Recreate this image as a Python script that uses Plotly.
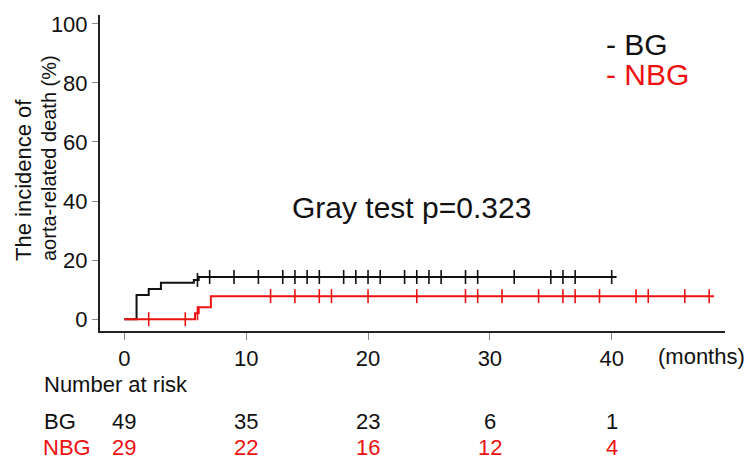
import plotly.graph_objects as go
import numpy as np

# ---- data ----
bg_times = [0, 1, 2, 3, 5.7, 6.1, 40.4]
bg_vals = [0, 8.2, 10.2, 12.3, 13.3, 14.3, 14.3]
bg_censor = [6.0, 7, 9, 11, 13, 14, 15, 16, 18, 19, 20, 21, 23, 24, 25, 26, 28, 29, 32, 35, 36, 37, 40]

nbg_times = [0, 5.8, 6.1, 7.1, 48.4]
nbg_vals = [0, 2.0, 4.0, 7.8, 7.8]
nbg_censor = [2, 5, 6.0, 12, 14, 16, 17, 20, 24, 28, 29, 31, 34, 36, 37, 39, 42, 43, 46, 48]

risk_times = [0, 10, 20, 30, 40]
risk_bg = [49, 35, 23, 6, 1]
risk_nbg = [29, 22, 16, 12, 4]

x_ticks = [0, 10, 20, 30, 40]
y_ticks = [0, 20, 40, 60, 80, 100]

BLACK = "#111111"
RED = "#ee1111"
FONT = "Liberation Sans, Arial, sans-serif"

W, H = 750.0, 461.0
ML, MR, MT, MB = 100, 25, 15, 130


def px(pix):
    return (pix - ML) / (W - ML - MR)


def py(pix):
    return (H - MB - pix) / (H - MT - MB)


def step_at(times, vals, t):
    idx = np.searchsorted(np.array(times), t, side="right") - 1
    return vals[max(idx, 0)]


fig = go.Figure()

for times, vals, cens, col in [
    (bg_times, bg_vals, bg_censor, BLACK),
    (nbg_times, nbg_vals, nbg_censor, RED),
]:
    fig.add_trace(go.Scatter(x=times, y=vals, mode="lines", line=dict(color=col, width=2, shape="hv"),
                             showlegend=False, hoverinfo="skip"))
    fig.add_trace(go.Scatter(x=cens, y=[step_at(times, vals, c) for c in cens], mode="markers",
                             marker=dict(symbol="line-ns", size=10, line=dict(color=col, width=1.6)),
                             showlegend=False, hoverinfo="skip"))

annotations = []
# legend text
annotations.append(dict(x=px(604), y=py(44), xref="paper", yref="paper", xanchor="left", yanchor="middle",
                        text="- BG", showarrow=False, font=dict(family=FONT, size=30, color=BLACK)))
annotations.append(dict(x=px(604), y=py(74), xref="paper", yref="paper", xanchor="left", yanchor="middle",
                        text="- NBG", showarrow=False, font=dict(family=FONT, size=30, color=RED)))
# gray test
annotations.append(dict(x=px(290), y=py(208), xref="paper", yref="paper", xanchor="left", yanchor="middle",
                        text="Gray test p=0.323", showarrow=False, font=dict(family=FONT, size=30, color=BLACK)))
# months
annotations.append(dict(x=px(747), y=py(356), xref="paper", yref="paper", text="(months)", showarrow=False,
                        xanchor="right", yanchor="middle", font=dict(family=FONT, size=22, color=BLACK)))
# risk table
annotations.append(dict(x=px(42), y=py(384), xref="paper", yref="paper", text="Number at risk", showarrow=False,
                        xanchor="left", yanchor="middle", font=dict(family=FONT, size=22, color=BLACK)))
annotations.append(dict(x=px(42), y=py(421), xref="paper", yref="paper", text="BG", showarrow=False,
                        xanchor="left", yanchor="middle", font=dict(family=FONT, size=22, color=BLACK)))
annotations.append(dict(x=px(42), y=py(447), xref="paper", yref="paper", text="NBG", showarrow=False,
                        xanchor="left", yanchor="middle", font=dict(family=FONT, size=22, color=RED),
                        borderpad=0))
for t, a, b in zip(risk_times, risk_bg, risk_nbg):
    annotations.append(dict(x=t, y=py(421), xref="x", yref="paper", text=str(a), showarrow=False,
                            xanchor="center", yanchor="middle", font=dict(family=FONT, size=22, color=BLACK)))
    annotations.append(dict(x=t, y=py(447), xref="x", yref="paper", text=str(b), showarrow=False,
                            xanchor="center", yanchor="middle", font=dict(family=FONT, size=22, color=RED),
                            borderpad=0))

# y-axis title (two lines, bottom aligned in rotated frame)
annotations.append(dict(x=px(23), y=py(263), xref="paper", yref="paper", text="The incidence of", showarrow=False,
                        textangle=-90, xanchor="center", yanchor="bottom", font=dict(family=FONT, size=22, color=BLACK)))
annotations.append(dict(x=px(49), y=py(263), xref="paper", yref="paper", text="aorta-related death (%)",
                        showarrow=False, textangle=-90, xanchor="center", yanchor="bottom",
                        font=dict(family=FONT, size=20, color=BLACK)))

fig.update_layout(
    width=750, height=461,
    margin=dict(l=ML, r=MR, t=MT, b=MB),
    paper_bgcolor="white", plot_bgcolor="white",
    annotations=annotations,
    xaxis=dict(range=[-2, 49.3], tickvals=x_ticks, ticktext=[str(v) for v in x_ticks],
               showline=True, linecolor="#222222", linewidth=2, ticks="outside", ticklen=7,
               tickcolor="#888888", tickwidth=1, showgrid=False, zeroline=False,
               tickfont=dict(family=FONT, size=22, color=BLACK)),
    yaxis=dict(range=[-4, 103], tickvals=y_ticks, ticktext=[str(v) for v in y_ticks],
               showline=True, linecolor="#222222", linewidth=2, ticks="outside", ticklen=6,
               tickcolor="#888888", tickwidth=1, showgrid=False, zeroline=False,
               tickfont=dict(family=FONT, size=22, color=BLACK)),
)

fig.write_html("out.html")
